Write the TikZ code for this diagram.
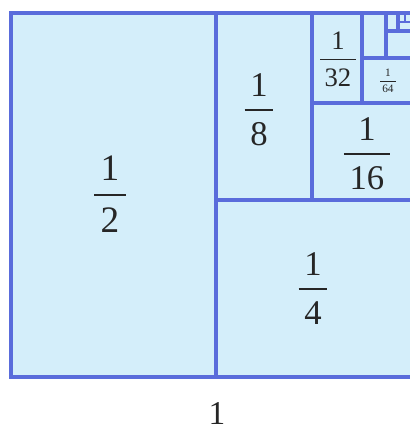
\documentclass[tikz,border=0pt]{standalone}
\usepackage{fontspec}
\setmainfont{Liberation Serif}
\definecolor{edge}{HTML}{5A6CDB}
\definecolor{cell}{HTML}{D4EEFA}
\definecolor{ink}{HTML}{262626}
\newcommand\frc[3]{{\fontsize{#1}{#1}\selectfont\renewcommand\arraystretch{1.15}\setlength\arrayrulewidth{0.06em}\begin{tabular}{@{\,}c@{\,}}#2\\\hline\noalign{\vskip0.18em}#3\end{tabular}}}
\tikzset{
  lbl/.style={text=ink, inner sep=0pt, align=center},
  wall/.style={draw=edge, line width=2.7pt},
}
\begin{document}
\begin{tikzpicture}[x=0.75pt,y=-0.75pt]
\useasboundingbox (0,0) rectangle (410,430);
\fill[white] (0,0) rectangle (410,430);
\begin{scope}
\clip (0,0) rectangle (410,430);
\fill[cell] (11,13) rectangle (440,377);
\draw[wall] (11,13) rectangle (440,377);
\draw[wall] (216,13) -- (216,377);
\draw[wall] (216,200) -- (440,200);
\draw[wall] (312,13) -- (312,200);
\draw[wall] (312,103) -- (440,103);
\draw[wall] (362,13) -- (362,103);
\draw[wall] (362,58) -- (440,58);
\draw[wall] (386,13) -- (386,58);
\draw[wall] (386,31) -- (440,31);
\draw[wall] (398,13) -- (398,31);
\draw[wall, line width=1.6pt] (398,22) -- (440,22);
\draw[wall, line width=1.3pt] (405,13) -- (405,22);
\end{scope}
\node[lbl] (half) at (110,198) {\frc{28pt}{1}{2}};
\node[lbl] (eighth) at (259,113) {\frc{26pt}{1}{8}};
\node[lbl] (quarter) at (313,292) {\frc{26pt}{1}{4}};
\node[lbl] (sixteenth) at (367,157) {\frc{26pt}{1}{16}};
\node[lbl] (thirtysecond) at (338,62) {\frc{20pt}{1}{32}};
\node[lbl] (sixtyfourth) at (388,82) {\frc{8.5pt}{1}{64}};
\node[lbl] (one) at (217,413) {\fontsize{25pt}{25pt}\selectfont 1};
\end{tikzpicture}
\end{document}
